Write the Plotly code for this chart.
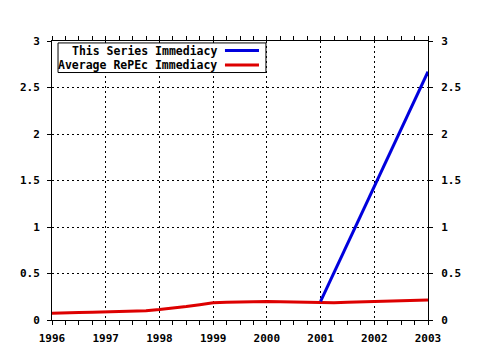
import plotly.graph_objects as go

# Quarterly average immediacy across RePEc
avg_years = [1996.00, 1996.25, 1996.50, 1996.75, 1997.00, 1997.25, 1997.50, 1997.75,
             1998.00, 1998.25, 1998.50, 1998.75, 1999.00, 1999.25, 1999.50, 1999.75,
             2000.00, 2000.25, 2000.50, 2000.75, 2001.00, 2001.25, 2001.50, 2001.75,
             2002.00, 2002.25, 2002.50, 2002.75, 2003.00]
avg_values = [0.072, 0.072, 0.080, 0.082, 0.085, 0.090, 0.095, 0.100,
              0.112, 0.125, 0.145, 0.165, 0.185, 0.190, 0.195, 0.200,
              0.200, 0.195, 0.192, 0.188, 0.180, 0.185, 0.190, 0.195,
              0.198, 0.200, 0.210, 0.212, 0.215]

# Immediacy of this series
series_years = [2001, 2002, 2003]
series_values = [0.20, 1.43, 2.67]

legend_labels = ["This Series Immediacy", "Average RePEc Immediacy"]
series_colors = ["#0000DD", "#DD0000"]

year_ticks = list(range(1996, 2004))
y_ticks = [0, 0.5, 1, 1.5, 2, 2.5, 3]
y_tick_text = ["0", "0.5", "1", "1.5", "2", "2.5", "3"]

FONT = dict(family="DejaVu Sans Mono", size=11, color="black", weight="bold")
GRID_DASH = "2px,3px"

fig = go.Figure()
fig.add_trace(go.Scatter(x=avg_years, y=avg_values, mode="lines",
                         line=dict(color=series_colors[1], width=3),
                         showlegend=False))
fig.add_trace(go.Scatter(x=series_years, y=series_values, mode="lines",
                         line=dict(color=series_colors[0], width=3),
                         showlegend=False))
# invisible trace so the right-hand axis is drawn
fig.add_trace(go.Scatter(x=[1996], y=[0], yaxis="y2", mode="markers",
                         marker=dict(opacity=0), showlegend=False,
                         hoverinfo="skip"))

axis_common = dict(showline=True, linecolor="black", linewidth=1,
                   ticks="outside", ticklen=4, tickcolor="black",
                   tickfont=FONT, zeroline=False, automargin=False)

fig.update_layout(
    width=480, height=350,
    margin=dict(l=52, r=52, t=41, b=30),
    paper_bgcolor="white", plot_bgcolor="white",
    xaxis=dict(range=[1996, 2003], tickvals=year_ticks,
               ticktext=[str(y) for y in year_ticks],
               showgrid=True, gridcolor="black", griddash=GRID_DASH, gridwidth=1,
               mirror="allticks", ticklabelstandoff=4,
               minor=dict(dtick=0.25, tick0=1996, ticks="outside", ticklen=2,
                          tickcolor="black", showgrid=False),
               **axis_common),
    yaxis=dict(range=[0, 3], tickvals=y_ticks, ticktext=y_tick_text,
               showgrid=True, gridcolor="black", griddash=GRID_DASH, gridwidth=1,
               ticklabelstandoff=5,
               **axis_common),
    yaxis2=dict(range=[0, 3], tickvals=y_ticks, ticktext=y_tick_text,
                overlaying="y", side="right", showgrid=False,
                ticklabelstandoff=6,
                **axis_common),
)

# Legend box drawn in paper coordinates, text right-aligned with line keys on the right
fig.add_shape(type="rect", xref="paper", yref="paper",
              x0=0.016, x1=0.569, y0=0.887, y1=0.993,
              line=dict(color="black", width=1), fillcolor="white", layer="above")
row_y = [0.9659, 0.9140]
for label, color, yy in zip(legend_labels, series_colors, row_y):
    fig.add_annotation(xref="paper", yref="paper", x=0.4415, y=yy,
                       xanchor="right", yanchor="middle", text=label,
                       showarrow=False, borderpad=0,
                       font=dict(family="DejaVu Sans Mono", size=11.5,
                                 color="black", weight="bold"))
    fig.add_shape(type="line", xref="paper", yref="paper",
                  x0=0.460, x1=0.5505, y0=yy, y1=yy,
                  line=dict(color=color, width=3), layer="above")

fig.write_html("out.html")
